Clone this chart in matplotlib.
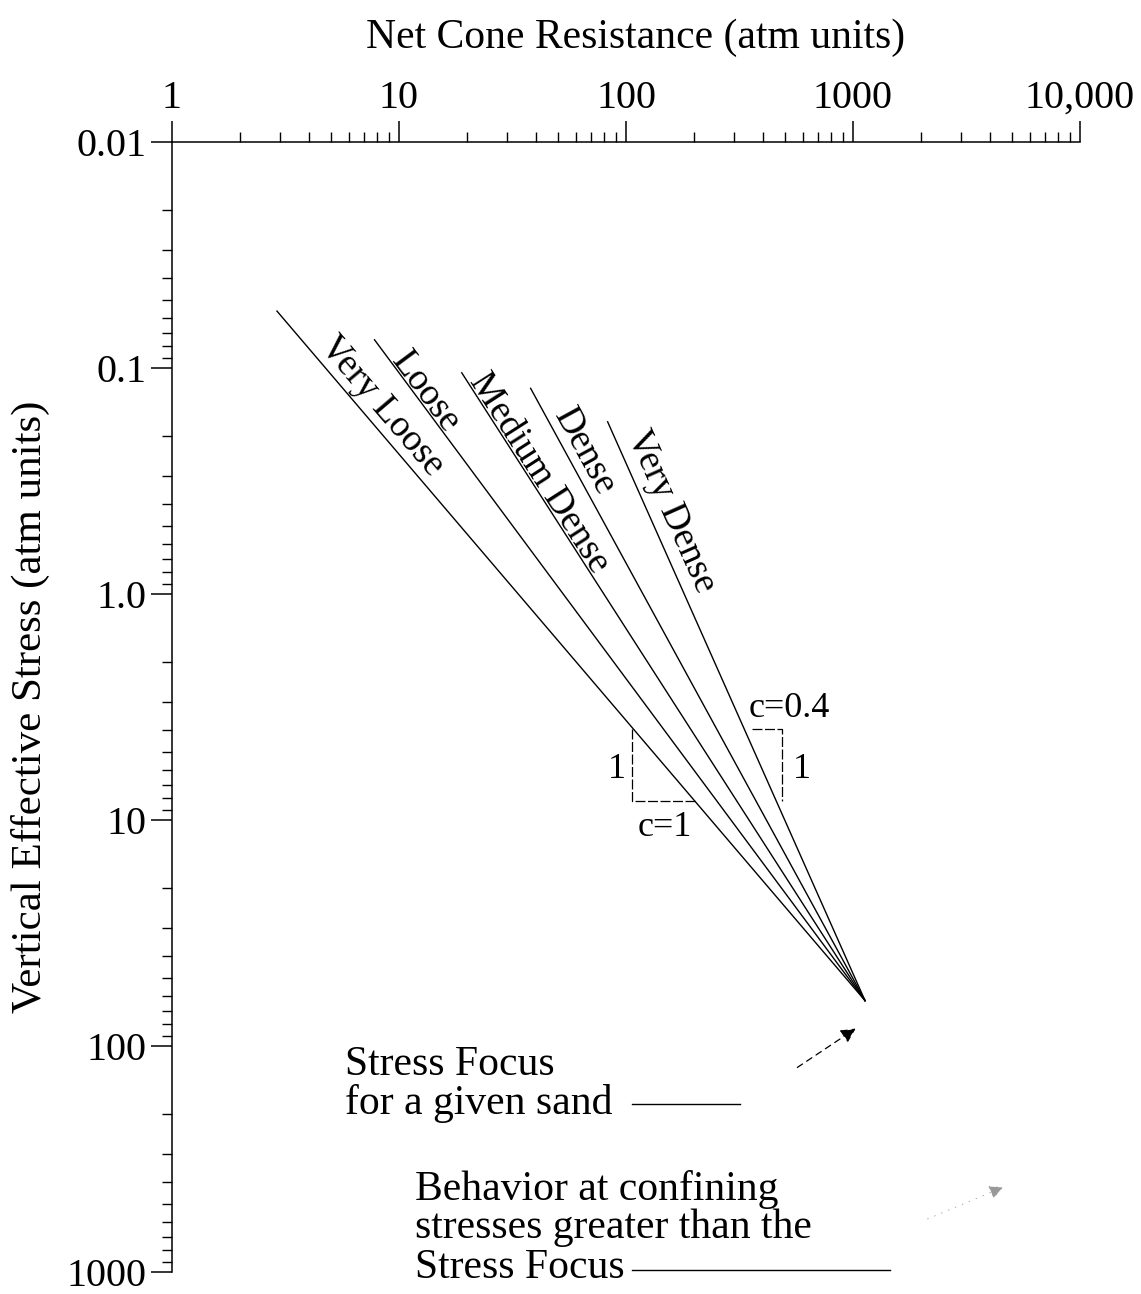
import numpy as np
import matplotlib
matplotlib.use("Agg")
import matplotlib.pyplot as plt
from matplotlib.ticker import FixedLocator, LogLocator, NullFormatter, FixedFormatter

plt.rcParams['font.family'] = ['Liberation Serif', 'DejaVu Serif']

# ---------------- data ----------------
density_labels = ["Very Loose", "Loose", "Medium Dense", "Dense", "Very Dense"]
q_start = [2.9, 7.8, 18.9, 38.0, 83.0]          # net cone resistance at line start
sigma_start = [0.056, 0.075, 0.105, 0.123, 0.173]  # vertical effective stress at line start
q_focus = 1130.0
sigma_focus = 63.0

x_ticks = [1, 10, 100, 1000, 10000]
x_ticklabels = ["1", "10", "100", "1000", "10,000"]
y_ticks = [0.01, 0.1, 1.0, 10, 100, 1000]
y_ticklabels = ["0.01", "0.1", "1.0", "10", "100", "1000"]

tri_c1_q = [106, 106, 201]
tri_c1_sigma = [3.94, 8.28, 8.28]
tri_c04_q = [359, 487, 487]
tri_c04_sigma = [3.94, 3.94, 8.28]

# ---------------- layout ----------------
W, H = 1141, 1294
FS = 30
fig = plt.figure(figsize=(W / 100, H / 100), dpi=100)
ax = fig.add_axes([172 / W, 1 - 1272 / H, 908 / W, 1130 / H])
ax.set_xscale('log')
ax.set_yscale('log')
ax.set_xlim(1, 10000)
ax.set_ylim(1000, 0.01)

for s in ['right', 'bottom']:
    ax.spines[s].set_visible(False)
for s in ['top', 'left']:
    ax.spines[s].set_linewidth(1.1)

ax.xaxis.tick_top()
ax.xaxis.set_major_locator(FixedLocator(x_ticks))
ax.xaxis.set_major_formatter(FixedFormatter(x_ticklabels))
ax.xaxis.set_minor_locator(LogLocator(base=10, subs=np.arange(2, 10)))
ax.xaxis.set_minor_formatter(NullFormatter())
ax.yaxis.set_major_locator(FixedLocator(y_ticks))
ax.yaxis.set_major_formatter(FixedFormatter(y_ticklabels))
ax.yaxis.set_minor_locator(LogLocator(base=10, subs=np.arange(2, 10)))
ax.yaxis.set_minor_formatter(NullFormatter())

ax.tick_params(axis='x', which='both', top=True, bottom=False, labeltop=True,
               labelbottom=False, direction='out')
ax.tick_params(axis='y', which='both', left=True, right=False, direction='out')
ax.tick_params(which='major', length=15, width=1.1, labelsize=29)
ax.tick_params(axis='x', which='major', pad=3)
ax.tick_params(axis='y', which='major', pad=3)
ax.tick_params(which='minor', length=7, width=1.0)

ax.set_xlabel("Net Cone Resistance (atm units)", fontsize=FS)
ax.xaxis.set_label_position('top')
ax.xaxis.set_label_coords((636 - 172) / 908, 1 + (142 - 48) / 1130)
ax.set_ylabel("Vertical Effective Stress (atm units)", fontsize=31)
ax.yaxis.set_label_coords((50 - 172) / 908, 0.5)

# ---------------- lines ----------------
label_frac = [0.155, 0.088, 0.169, 0.117, 0.17]
label_off = [9, 1, 1, 8, 12]
for name, qs, ss, f, off in zip(density_labels, q_start, sigma_start, label_frac, label_off):
    ax.plot([qs, q_focus], [ss, sigma_focus], color='black', lw=1.0)
    p0 = ax.transData.transform((qs, ss))
    p1 = ax.transData.transform((q_focus, sigma_focus))
    ang = np.degrees(np.arctan2(p1[1] - p0[1], p1[0] - p0[0]))
    lx = 10 ** (np.log10(qs) + f * (np.log10(q_focus) - np.log10(qs)))
    ly = 10 ** (np.log10(ss) + f * (np.log10(sigma_focus) - np.log10(ss)))
    th = np.radians(ang)
    ax.annotate(name, xy=(lx, ly), xycoords='data',
                xytext=(-np.sin(th) * off, np.cos(th) * off), textcoords='offset pixels',
                rotation=ang, rotation_mode='anchor', ha='center', va='baseline',
                fontsize=27)

# slope triangles
ax.plot(tri_c1_q, tri_c1_sigma, color='black', lw=0.9, ls=(0, (8, 2)))
ax.plot(tri_c04_q, tri_c04_sigma, color='black', lw=0.9, ls=(0, (8, 2)))


def P(x, y):
    return (x / W, 1 - y / H)


fig.text(*P(617, 770), "1", fontsize=26, ha='center', va='center')
fig.text(*P(665, 828), "c=1", fontsize=26, ha='center', va='center')
fig.text(*P(789, 708), "c=0.4", fontsize=26, ha='center', va='center')
fig.text(*P(802, 770), "1", fontsize=26, ha='center', va='center')

# ---------------- annotations ----------------
fig.text(*P(345, 1075), "Stress Focus", fontsize=FS, ha='left', va='baseline')
fig.text(*P(345, 1114), "for a given sand", fontsize=FS, ha='left', va='baseline')
fig.add_artist(plt.Line2D([632 / W, 740 / W], [1 - 1104 / H, 1 - 1104 / H],
                          color='black', lw=1.0))
ax.annotate("", xy=P(858, 1027), xycoords='figure fraction',
            xytext=P(795, 1069), textcoords='figure fraction',
            arrowprops=dict(arrowstyle='-|>', color='black', lw=0.9,
                            ls=(0, (5, 4)), mutation_scale=22))

fig.text(*P(415, 1200), "Behavior at confining", fontsize=FS, ha='left', va='baseline')
fig.text(*P(415, 1238), "stresses greater than the", fontsize=FS, ha='left', va='baseline')
fig.text(*P(415, 1278), "Stress Focus", fontsize=FS, ha='left', va='baseline')
fig.add_artist(plt.Line2D([632 / W, 890 / W], [1 - 1270 / H, 1 - 1270 / H],
                          color='black', lw=1.0))
ax.annotate("", xy=P(1006, 1186), xycoords='figure fraction',
            xytext=P(925, 1220), textcoords='figure fraction',
            arrowprops=dict(arrowstyle='-|>', color='0.6', lw=0.6,
                            ls=(0, (1, 8)), mutation_scale=22))

fig.savefig("out.png", dpi=100)
